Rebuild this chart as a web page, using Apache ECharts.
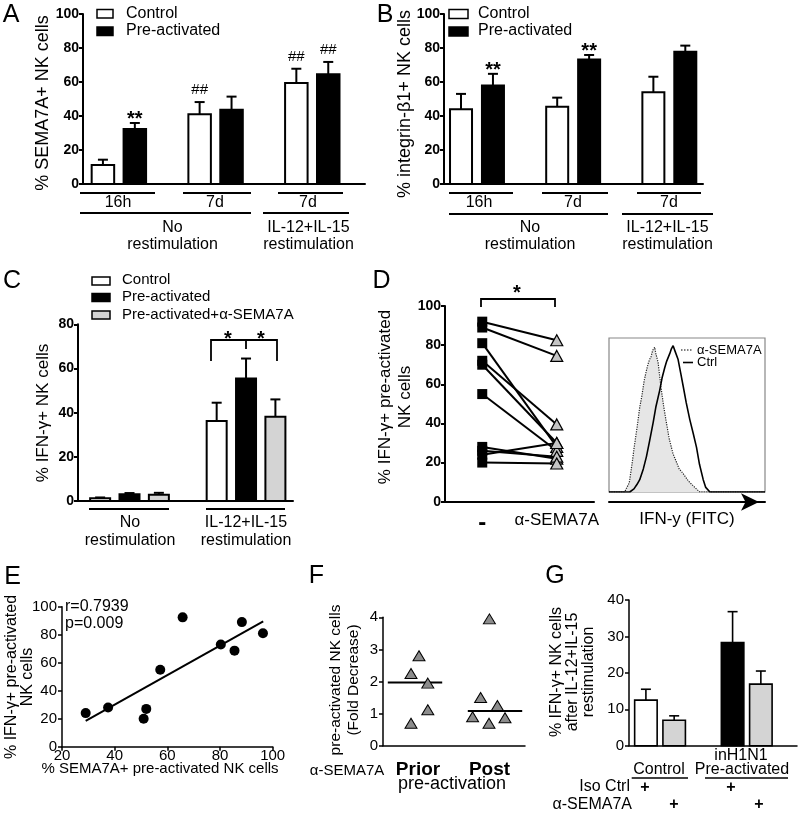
<!DOCTYPE html>
<html><head><meta charset="utf-8">
<script src="https://cdn.jsdelivr.net/npm/echarts@6/dist/echarts.min.js"></script>
<style>html,body{margin:0;padding:0;background:#fff}#c{width:800px;height:814px}</style>
</head><body><div id="c"></div>
<script>
const FF = '"Liberation Sans", Arial, Helvetica, sans-serif';

// ---------------- data ----------------
const seriesNames = ['Control', 'Pre-activated', 'Pre-activated+α-SEMA7A'];

// Panel A
const aGroups = ['16h', '7d', '7d'];
const aConditions = ['No\nrestimulation', 'IL-12+IL-15\nrestimulation'];
const aControl = [11.2, 41.0, 59.4];
const aControlErr = [3.1, 7.2, 8.4];
const aPre = [32.4, 43.7, 64.5];
const aPreErr = [3.5, 7.7, 7.3];
const aControlMarks = ['', '##', '##'];
const aPreMarks = ['**', '', '##'];

// Panel B
const bGroups = ['16h', '7d', '7d'];
const bConditions = ['No\nrestimulation', 'IL-12+IL-15\nrestimulation'];
const bControl = [44.0, 45.5, 54.0];
const bControlErr = [9.0, 5.3, 9.1];
const bPre = [58.0, 73.3, 77.8];
const bPreErr = [6.8, 2.6, 3.6];
const bPreMarks = ['**', '**', ''];

// Panel C
const cConditions = ['No\nrestimulation', 'IL-12+IL-15\nrestimulation'];
const cControl = [1.2, 36.2];
const cControlErr = [0.4, 8.3];
const cPre = [3.0, 55.5];
const cPreErr = [0.6, 9.0];
const cSema = [2.8, 38.2];
const cSemaErr = [0.9, 7.8];

// Panel D
const dCats = ['-', 'α-SEMA7A'];
const dNone = [92, 89, 81, 72, 70, 55, 28, 26, 24, 20];
const dSema = [82.5, 74.5, 28, 39.5, 30, 26, 22, 23, 30, 19.5];
const histLegend = ['α-SEMA7A', 'Ctrl'];
const histSemaX = [0, 10, 11, 13, 15, 16, 18, 19.7, 21, 22.5, 24, 25, 26, 27, 28, 29.3, 30, 31.5, 32.5, 33.6, 35, 36.8, 38.5, 41, 43, 45, 47.5, 51, 54, 56, 58.2, 100];
const histSemaY = [0, 0, 1, 6, 20, 28, 42, 55, 62, 72, 79, 83, 86, 88, 92, 94, 90, 84, 75, 66, 56, 45, 35, 25, 20, 15, 12, 7, 4, 2, 0, 0];
const histCtrlX = [0, 13.3, 16, 18, 19.7, 22, 24, 26, 28.3, 30, 32.5, 34, 35.8, 37, 39, 40, 41.1, 42.5, 44.3, 46, 47.5, 49.5, 51.8, 54, 56.1, 58, 60.4, 62, 64.7, 100];
const histCtrlY = [0, 0, 2, 5, 8, 15, 23, 33, 45, 55, 66, 74, 81, 85, 90, 93, 95, 91, 86, 77, 69, 58, 47, 38, 29, 18, 8, 3, 0, 0];

// Panel E
const eSema = [29, 37.5, 51, 52, 57.3, 65.8, 80.3, 85.5, 88.3, 96.3];
const eIfn = [24, 28, 20, 27, 55, 92.4, 73, 68.6, 89, 81];
const eFitX = [29, 96.4];
const eFitY = [18.5, 89.6];
const eStats = ['r=0.7939', 'p=0.009'];

// Panel F
const fCats = ['Prior', 'Post'];
const fPrior = [2.8, 2.25, 1.95, 1.12, 0.7];
const fPost = [3.95, 1.5, 1.25, 0.9, 0.7, 0.87];
const fMedian = [1.97, 1.08];

// Panel G
const gGroups = ['Control', 'inH1N1\nPre-activated'];
const gRows = ['Iso Ctrl', 'α-SEMA7A'];
const gIso = [12.5, 28.3];
const gIsoErr = [3.0, 8.5];
const gSema = [7.0, 16.9];
const gSemaErr = [1.2, 3.6];

// ---------------- layout (not data) ----------------
const fPriorJitter = [0.05, -0.05, 0.16, 0.16, -0.05];
const fPostJitter = [-0.07, -0.18, 0.03, -0.28, -0.075, 0.125];
const fMedianHalf = 0.34;

// ---------------- helpers ----------------
function font(size, bold) { return (bold ? 'bold ' : '') + size + 'px ' + FF; }
function T(x, y, text, size, o) {
  o = o || {};
  const al = o.align || 'center';
  const va = o.va || 'middle';
  return { type: 'text', x: x, y: y, rotation: o.rot || 0, silent: true, z: 50,
    style: { text: text, font: font(size, o.bold), fill: '#000',
      textAlign: al, textVerticalAlign: va, align: al, verticalAlign: va,
      lineHeight: o.lh || undefined } };
}
function L(x1, y1, x2, y2, w, dash) {
  return { type: 'line', silent: true, z: 50, shape: { x1, y1, x2, y2 },
    style: { stroke: '#000', lineWidth: w || 2, lineDash: dash || null } };
}
function PL(pts, w) {
  return { type: 'polyline', silent: true, z: 50, shape: { points: pts },
    style: { stroke: '#000', lineWidth: w || 1.8, fill: null } };
}
function R(x, y, w, h, fill) {
  return { type: 'rect', silent: true, z: 50, shape: { x, y, width: w, height: h },
    style: { fill: fill, stroke: '#000', lineWidth: 1.5 } };
}

function bars(gi, name, vals, errs, offset, width, fills, marks, lw) {
  lw = lw || 2;
  return {
    type: 'custom', name: name, xAxisIndex: gi, yAxisIndex: gi, clip: false, z: 3,
    data: vals.map((v, i) => [i + 1 + offset, v, errs[i]]),
    encode: { x: 0, y: 1 },
    renderItem: function (params, api) {
      const i = params.dataIndex;
      const x = api.value(0), v = api.value(1), e = api.value(2);
      const b = api.coord([x, 0]), t = api.coord([x, v]), c = api.coord([x, v + e]);
      const fill = Array.isArray(fills) ? fills[i] : fills;
      const capW = 10;
      const ch = [
        { type: 'line', shape: { x1: t[0], y1: t[1], x2: c[0], y2: c[1] }, style: { stroke: '#000', lineWidth: lw } },
        { type: 'line', shape: { x1: c[0] - capW / 2, y1: c[1], x2: c[0] + capW / 2, y2: c[1] }, style: { stroke: '#000', lineWidth: lw } },
        { type: 'rect', shape: { x: b[0] - width / 2, y: t[1], width: width, height: b[1] - t[1] }, style: { fill: fill, stroke: '#000', lineWidth: lw } }
      ];
      const m = marks ? marks[i] : '';
      if (m) {
        const star = m.charAt(0) === '*';
        ch.push({ type: 'text', x: c[0], y: c[1] - (star ? 3 : 12),
          style: { text: m, font: star ? font(20, true) : font(15, false), fill: '#000',
            textAlign: 'center', textVerticalAlign: 'middle', align: 'center', verticalAlign: 'middle' } });
      }
      return { type: 'group', children: ch };
    }
  };
}

function yAx(gi, min, max, interval, bold, size, lw, labelMargin) {
  return { type: 'value', gridIndex: gi, min, max, interval,
    axisLine: { show: true, onZero: false, lineStyle: { color: '#000', width: lw } },
    axisTick: { show: true, length: 4, lineStyle: { color: '#000', width: lw } },
    axisLabel: { color: '#000', fontFamily: FF, fontSize: size, fontWeight: bold ? 'bold' : 'normal', margin: labelMargin },
    splitLine: { show: false } };
}
function xHidden(gi, min, max, lw) {
  return { type: 'value', gridIndex: gi, min, max,
    axisLine: { show: true, onZero: false, lineStyle: { color: '#000', width: lw } },
    axisTick: { show: false }, axisLabel: { show: false }, splitLine: { show: false } };
}

// ---------------- chart ----------------
const chart = echarts.init(document.getElementById('c'), null, { renderer: 'canvas' });

const grids = [
  { left: 83, top: 14, width: 282, height: 170 },
  { left: 444, top: 14, width: 259, height: 170 },
  { left: 78, top: 324.3, width: 215, height: 176.7 },
  { left: 445, top: 306, width: 149, height: 195.7 },
  { left: 609, top: 338, width: 156, height: 154, show: true, borderColor: '#888', borderWidth: 1.2, backgroundColor: 'transparent' },
  { left: 62, top: 606.7, width: 210.7, height: 140 },
  { left: 383, top: 617.3, width: 142, height: 128.4 },
  { left: 629, top: 600, width: 168, height: 145.7 }
].map(g => Object.assign({ containLabel: false, outerBoundsMode: 'none' }, g));

const xAxes = [
  xHidden(0, 0.629, 3.545, 2),
  xHidden(1, 0.657, 3.350, 2),
  xHidden(2, 0.558, 2.403, 2),
  { type: 'category', gridIndex: 3, data: dCats, boundaryGap: true,
    axisLine: { show: true, onZero: false, lineStyle: { color: '#000', width: 2 } },
    axisTick: { show: false },
    axisLabel: { color: '#000', fontFamily: FF, fontSize: 17, margin: 10, interval: 0,
      formatter: v => v === '-' ? '{b|-}' : v,
      rich: { b: { fontSize: 24, fontWeight: 'bold', fontFamily: FF, color: '#000' } } } },
  { type: 'value', gridIndex: 4, min: 0, max: 100, offset: 10,
    axisLine: { show: true, onZero: false, symbol: ['none', 'arrow'], symbolSize: [13, 18], symbolOffset: [0, -6],
      lineStyle: { color: '#000', width: 2 } },
    axisTick: { show: false }, axisLabel: { show: false }, splitLine: { show: false },
    name: 'IFN-y (FITC)', nameLocation: 'middle', nameGap: 9,
    nameTextStyle: { color: '#000', fontFamily: FF, fontSize: 17 } },
  { type: 'value', gridIndex: 5, min: 20, max: 100, interval: 20,
    axisLine: { show: true, onZero: false, lineStyle: { color: '#000', width: 1.5 } },
    axisTick: { show: true, length: 4, lineStyle: { color: '#000', width: 1.5 } },
    axisLabel: { color: '#000', fontFamily: FF, fontSize: 15, margin: 2 }, splitLine: { show: false } },
  xHidden(6, 0.6, 2.375, 1.5),
  xHidden(7, 0.642, 2.58, 1.5)
];

const yAxes = [
  yAx(0, 0, 100, 20, true, 14, 2, 4),
  yAx(1, 0, 100, 20, true, 14, 2, 4),
  yAx(2, 0, 80, 20, true, 14, 2, 4),
  yAx(3, 0, 100, 20, true, 14, 2, 4),
  { type: 'value', gridIndex: 4, min: 0, max: 100, show: false },
  yAx(5, 0, 100, 20, false, 15, 1.5, 5),
  yAx(6, 0, 4, 1, false, 15, 1.5, 5),
  yAx(7, 0, 40, 10, false, 15, 1.5, 5)
];

const series = [
  // A
  bars(0, seriesNames[0], aControl, aControlErr, -0.165, 22.5, '#fff', aControlMarks),
  bars(0, seriesNames[1], aPre, aPreErr, 0.165, 22.5, '#000', aPreMarks),
  // B
  bars(1, seriesNames[0], bControl, bControlErr, -0.166, 22, '#fff', null),
  bars(1, seriesNames[1], bPre, bPreErr, 0.166, 22, '#000', bPreMarks),
  // C
  bars(2, seriesNames[0], cControl, cControlErr, -0.252, 20, '#fff', null),
  bars(2, seriesNames[1], cPre, cPreErr, 0, 20, '#000', null),
  bars(2, seriesNames[2], cSema, cSemaErr, 0.252, 20, '#d4d4d4', null),
  // D paired lines
  { type: 'custom', xAxisIndex: 3, yAxisIndex: 3, z: 2, clip: false,
    data: dNone.map((v, i) => [0, v, dSema[i]]), encode: { x: 0, y: 1 },
    renderItem: function (p, api) {
      const a = api.coord([0, api.value(1)]), b = api.coord([1, api.value(2)]);
      return { type: 'line', shape: { x1: a[0], y1: a[1], x2: b[0], y2: b[1] }, style: { stroke: '#000', lineWidth: 2 } };
    } },
  { type: 'scatter', xAxisIndex: 3, yAxisIndex: 3, z: 4, symbol: 'rect', symbolSize: 10,
    itemStyle: { color: '#000', opacity: 1 }, data: dNone.map(v => [dCats[0], v]) },
  { type: 'scatter', xAxisIndex: 3, yAxisIndex: 3, z: 4, symbol: 'triangle', symbolSize: [12, 11],
    itemStyle: { color: '#c4c4c4', borderColor: '#000', borderWidth: 1.2, opacity: 1 }, data: dSema.map(v => [dCats[1], v]) },
  // D histogram
  { type: 'line', name: histLegend[0], xAxisIndex: 4, yAxisIndex: 4, showSymbol: false, symbol: 'none',
    data: histSemaX.map((x, i) => [x, histSemaY[i]]),
    lineStyle: { color: '#222', width: 1.2, type: 'dotted' }, areaStyle: { color: '#e6e6e6', opacity: 1 } },
  { type: 'line', name: histLegend[1], xAxisIndex: 4, yAxisIndex: 4, showSymbol: false, symbol: 'none',
    data: histCtrlX.map((x, i) => [x, histCtrlY[i]]),
    lineStyle: { color: '#000', width: 1.6 } },
  // E
  { type: 'line', xAxisIndex: 5, yAxisIndex: 5, showSymbol: false, symbol: 'none',
    data: eFitX.map((x, i) => [x, eFitY[i]]), lineStyle: { color: '#000', width: 2 } },
  { type: 'scatter', xAxisIndex: 5, yAxisIndex: 5, symbol: 'circle', symbolSize: 10,
    itemStyle: { color: '#000', opacity: 1 }, data: eSema.map((x, i) => [x, eIfn[i]]) },
  // F
  { type: 'custom', xAxisIndex: 6, yAxisIndex: 6, z: 2,
    data: fMedian.map((m, i) => [i + 1, m]), encode: { x: 0, y: 1 },
    renderItem: function (p, api) {
      const a = api.coord([api.value(0) - fMedianHalf, api.value(1)]);
      const b = api.coord([api.value(0) + fMedianHalf, api.value(1)]);
      return { type: 'line', shape: { x1: a[0], y1: a[1], x2: b[0], y2: b[1] }, style: { stroke: '#000', lineWidth: 2 } };
    } },
  { type: 'scatter', xAxisIndex: 6, yAxisIndex: 6, z: 4, symbol: 'triangle', symbolSize: [12, 10],
    itemStyle: { color: '#8c8c8c', borderColor: '#000', borderWidth: 1, opacity: 1 },
    data: fPrior.map((v, i) => [1 + fPriorJitter[i], v]) },
  { type: 'scatter', xAxisIndex: 6, yAxisIndex: 6, z: 4, symbol: 'triangle', symbolSize: [12, 10],
    itemStyle: { color: '#8c8c8c', borderColor: '#000', borderWidth: 1, opacity: 1 },
    data: fPost.map((v, i) => [2 + fPostJitter[i], v]) },
  // G
  bars(7, 'Iso Ctrl', gIso, gIsoErr, -0.163, 22.5, ['#fff', '#000'], null, 1.6),
  bars(7, 'α-SEMA7A', gSema, gSemaErr, 0.163, 22.5, '#d4d4d4', null, 1.6)
];

const graphics = [
  // panel letters
  T(11, 15, 'A', 25), T(385, 15, 'B', 25), T(12, 281.5, 'C', 25), T(381.5, 281, 'D', 25),
  T(12.5, 577, 'E', 25), T(316.5, 576, 'F', 25), T(555, 576.5, 'G', 25),
  // y-axis names
  T(43, 103, '% SEMA7A+ NK cells', 18, { rot: Math.PI / 2 }),
  T(405, 104, '% integrin-β1+ NK cells', 18, { rot: Math.PI / 2 }),
  T(43, 413, '% IFN-γ+ NK cells', 17, { rot: Math.PI / 2 }),
  T(395, 397, '% IFN-γ+ pre-activated\nNK cells', 17, { rot: Math.PI / 2, lh: 20 }),
  T(19.5, 677, '% IFN-γ+ pre-activated\nNK cells', 16, { rot: Math.PI / 2, lh: 16 }),
  T(344.5, 680, 'pre-activated NK cells\n(Fold Decrease)', 15.5, { rot: Math.PI / 2, lh: 18 }),
  T(573, 672, '% IFN-γ+ NK cells\nafter IL-12+IL-15\nrestimulation', 16, { rot: Math.PI / 2, lh: 16 }),
  // A legend
  R(97, 9.5, 16, 8.5, '#fff'), T(126, 13.5, seriesNames[0], 16, { align: 'left' }),
  R(97, 27, 16, 8.5, '#000'), T(126, 31, seriesNames[1], 16, { align: 'left' }),
  // B legend
  R(449, 9.5, 19, 9, '#fff'), T(478, 13.5, seriesNames[0], 16, { align: 'left' }),
  R(449, 27, 19, 9, '#000'), T(478, 31, seriesNames[1], 16, { align: 'left' }),
  // C legend
  R(92, 277, 18, 8, '#fff'), T(122, 280, seriesNames[0], 15, { align: 'left' }),
  R(92, 293.5, 18, 8, '#000'), T(122, 297, seriesNames[1], 15, { align: 'left' }),
  R(92, 311, 18, 8, '#d4d4d4'), T(122, 314.5, seriesNames[2], 15, { align: 'left' }),
  // A under-axis
  L(80, 193, 155, 193), L(183, 193, 251, 193), L(278, 193, 343, 193),
  L(80, 213, 251, 213), L(263, 213, 349, 213),
  T(118, 203, aGroups[0], 16), T(215, 203, aGroups[1], 16), T(308, 203, aGroups[2], 16),
  T(172.5, 236, aConditions[0], 16, { lh: 17 }), T(308.5, 236, aConditions[1], 16, { lh: 17 }),
  // B under-axis
  L(449, 193, 513, 193), L(542, 193, 608, 193), L(637, 193, 701, 193),
  L(449, 214, 608, 214), L(622, 214, 713, 214),
  T(479, 203, bGroups[0], 16), T(573, 203, bGroups[1], 16), T(669, 203, bGroups[2], 16),
  T(530, 236, bConditions[0], 16, { lh: 17 }), T(667.5, 236, bConditions[1], 16, { lh: 17 }),
  // C under-axis
  L(89, 509, 169, 509), L(206, 509, 285, 509),
  T(130, 532, cConditions[0], 16, { lh: 18 }), T(246, 532, cConditions[1], 16, { lh: 18 }),
  // C brackets
  PL([[211, 361], [211, 340], [246, 340], [246, 349]]),
  PL([[246, 340], [277, 340], [277, 361]]),
  T(228, 339, '*', 20, { bold: true }), T(261, 339, '*', 20, { bold: true }),
  // D bracket
  PL([[481, 307], [481, 299], [555, 299], [555, 307]]),
  T(517, 293, '*', 20, { bold: true }),
  // histogram legend
  L(681, 350, 693, 350, 1.2, [1.5, 1.5]), T(697, 350, histLegend[0], 13, { align: 'left' }),
  L(683, 362.5, 693, 362.5, 1.6), T(697, 362.5, histLegend[1], 13, { align: 'left' }),
  // E texts
  T(65, 607, eStats[0], 16, { align: 'left' }), T(65, 624, eStats[1], 16, { align: 'left' }),
  T(160, 769, '% SEMA7A+ pre-activated NK cells', 15),
  // F texts
  T(347, 771, 'α-SEMA7A', 15), T(418, 769.5, fCats[0], 19, { bold: true }), T(489.5, 769.5, fCats[1], 19, { bold: true }),
  T(452, 784, 'pre-activation', 18),
  // G texts
  T(659, 769.5, gGroups[0], 16),
  T(741, 756, gGroups[1].split('\n')[0], 16), T(742, 769.5, gGroups[1].split('\n')[1], 16),
  L(631.7, 778, 688, 778, 1.5), L(705, 778, 788, 778, 1.5),
  T(630, 787, gRows[0], 16, { align: 'right' }), T(632, 805, gRows[1], 16, { align: 'right' }),
  T(645, 787.5, '+', 16, { bold: true }), T(731, 787.5, '+', 16, { bold: true }),
  T(674, 805, '+', 16, { bold: true }), T(759, 805, '+', 16, { bold: true })
];

chart.setOption({
  animation: false,
  backgroundColor: '#fff',
  textStyle: { fontFamily: FF },
  grid: grids, xAxis: xAxes, yAxis: yAxes, series: series,
  graphic: { elements: graphics }
});
</script></body></html>
